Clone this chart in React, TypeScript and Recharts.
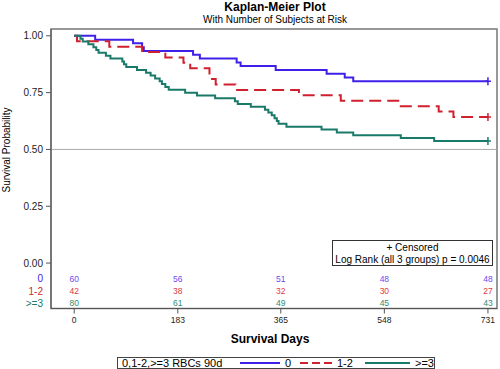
import { ComposedChart, Line, Scatter, XAxis, YAxis, ReferenceLine, ReferenceArea } from 'recharts';

const GROUPS = ['0', '1-2', '>=3'];
const COLORS = ['#3F20E8', '#D01F2F', '#1A7A6A'];
const RISK_COLORS = ['#6A4CF2', '#DD3A45', '#2E8C7B'];

// step times (days) and KM estimate right after each step
const DAYS_0 = [37, 104, 120, 123, 210, 222, 287, 294, 356, 446, 478, 493];
const SURV_0 = [0.983, 0.967, 0.95, 0.933, 0.917, 0.9, 0.883, 0.867, 0.85, 0.833, 0.817, 0.8];
const DAYS_12 = [5, 62, 120, 161, 193, 205, 239, 250, 285, 397, 471, 577, 644, 670];
const SURV_12 = [0.976, 0.952, 0.929, 0.905, 0.881, 0.857, 0.81, 0.786, 0.762, 0.738, 0.714, 0.69, 0.667, 0.643];
const DAYS_3 = [11, 15, 25, 34, 39, 43, 56, 64, 85, 88, 92, 111, 127, 135, 143, 151, 155, 161, 167, 196, 217, 249,
  284, 289, 312, 337, 343, 349, 354, 358, 361, 375, 437, 464, 493, 577, 636];
const SURV_3 = [0.9875, 0.975, 0.9625, 0.95, 0.9375, 0.925, 0.9125, 0.9, 0.8875, 0.875, 0.8625, 0.85, 0.8375, 0.825,
  0.8125, 0.8, 0.7875, 0.775, 0.7625, 0.75, 0.7375, 0.725, 0.7125, 0.7, 0.6875, 0.675, 0.6625, 0.65, 0.6375, 0.625,
  0.6125, 0.6, 0.5875, 0.575, 0.5625, 0.55, 0.5375];
const LAST_DAY = 731;

const RISK_DAYS = [0, 183, 365, 548, 731];
const AT_RISK_0 = [60, 56, 51, 48, 48];
const AT_RISK_12 = [42, 38, 32, 30, 27];
const AT_RISK_3 = [80, 61, 49, 45, 43];

const Y_TICKS = [0, 0.25, 0.5, 0.75, 1];
const RISK_ROW_Y = [-0.07, -0.123, -0.176];

const FONT = 'Arial, "Liberation Sans", sans-serif';

function steps(days: number[], surv: number[]) {
  const pts = [{ day: 0, surv: 1 }];
  days.forEach((d, i) => pts.push({ day: d, surv: surv[i] }));
  pts.push({ day: LAST_DAY, surv: surv[surv.length - 1] });
  return pts;
}

const curves = [steps(DAYS_0, SURV_0), steps(DAYS_12, SURV_12), steps(DAYS_3, SURV_3)];
const riskRows = [AT_RISK_0, AT_RISK_12, AT_RISK_3].map((counts, g) =>
  RISK_DAYS.map((d, i) => ({ day: d, y: RISK_ROW_Y[g], n: counts[i] })));
const censored = curves.map((c) => [c[c.length - 1]]);

const YTick = (props: any) => {
  const { x, y, payload } = props;
  const v = payload.value;
  const g = RISK_ROW_Y.indexOf(v);
  if (g >= 0) {
    return (
      <text x={x} y={y} textAnchor="end" dominantBaseline="central" fontSize={10} fontFamily={FONT} fill={COLORS[g]}>
        {GROUPS[g]}
      </text>
    );
  }
  return (
    <g>
      <line x1={x + 3} x2={x + 8} y1={y} y2={y} stroke="#555" />
      <text x={x} y={y} textAnchor="end" dominantBaseline="central" fontSize={10} fontFamily={FONT} fill="#222">
        {v.toFixed(2)}
      </text>
    </g>
  );
};

const plus = (color: string) => (p: any) => (
  <g>
    <line x1={p.cx - 3} x2={p.cx + 3} y1={p.cy} y2={p.cy} stroke={color} strokeWidth={1.5} />
    <line x1={p.cx} x2={p.cx} y1={p.cy - 4} y2={p.cy + 4} stroke={color} strokeWidth={1.5} />
  </g>
);

const riskText = (color: string) => (p: any) => (
  <text x={p.cx} y={p.cy} textAnchor="middle" dominantBaseline="central" fontSize={8.5} fontFamily={FONT} fill={color}>
    {p.payload.n}
  </text>
);

export default function App() {
  return (
    <div style={{ position: 'absolute', left: 0, top: 0, width: 500, height: 369, background: '#fff', fontFamily: FONT }}>
      <ComposedChart width={500} height={369} margin={{ top: 29, right: 3, bottom: 0, left: 0 }}>
        <XAxis dataKey="day" type="number" domain={[-41, 747]} allowDataOverflow ticks={RISK_DAYS} height={60.5}
          tickSize={5} tickMargin={3} stroke="#555" tick={{ fill: '#222', fontSize: 8.5, fontFamily: FONT }} />
        <YAxis type="number" domain={[-0.2, 1.03]} allowDataOverflow ticks={[...RISK_ROW_Y, ...Y_TICKS]} width={51}
          tickSize={5} tickMargin={3} tickLine={false} stroke="#555" tick={<YTick />} interval={0} />
        <ReferenceArea x1={-41} x2={747} y1={-0.2} y2={1.03} fill="none" stroke="#777" strokeWidth={1.5} />
        <ReferenceLine y={0.5} stroke="#aaa" strokeWidth={1} />
        {curves.map((c, g) => (
          <Line key={g} data={c} dataKey="surv" type="stepAfter" stroke={COLORS[g]} strokeWidth={2}
            strokeDasharray={g === 1 ? '12 6' : undefined} dot={false} activeDot={false} isAnimationActive={false} />
        ))}
        {censored.map((c, g) => (
          <Scatter key={'c' + g} data={c} dataKey="surv" shape={plus(COLORS[g])} isAnimationActive={false} />
        ))}
        {riskRows.map((r, g) => (
          <Scatter key={'r' + g} data={r} dataKey="y" shape={riskText(RISK_COLORS[g])} isAnimationActive={false} />
        ))}
      </ComposedChart>
      <svg width={500} height={369} style={{ position: 'absolute', left: 0, top: 0, pointerEvents: 'none' }} fontFamily={FONT}>
        <text x={275} y={7} textAnchor="middle" dominantBaseline="central" fontSize={12} fontWeight="bold" fill="#000">Kaplan-Meier Plot</text>
        <text x={275} y={19} textAnchor="middle" dominantBaseline="central" fontSize={10} fill="#000">With Number of Subjects at Risk</text>
        <text transform="translate(6,150) rotate(-90)" textAnchor="middle" dominantBaseline="central" fontSize={10} fill="#000">Survival Probability</text>
        <text x={270} y={339} textAnchor="middle" dominantBaseline="central" fontSize={12} fontWeight="bold" fill="#000">Survival Days</text>
        <rect x={332.5} y={240.5} width={160} height={25} fill="#fff" stroke="#333" />
        <text x={412.5} y={247} textAnchor="middle" dominantBaseline="central" fontSize={10} fill="#000">+ Censored</text>
        <text x={412.5} y={259} textAnchor="middle" dominantBaseline="central" fontSize={10} fill="#000">Log Rank (all 3 groups) p = 0.0046</text>
        <rect x={117.5} y={357.5} width={317} height={11} fill="#fff" stroke="#444" />
        <text x={122} y={363} dominantBaseline="central" fontSize={11} fill="#000">0,1-2,&gt;=3 RBCs 90d</text>
        <line x1={240} x2={280} y1={363} y2={363} stroke={COLORS[0]} strokeWidth={2} />
        <text x={285} y={363} dominantBaseline="central" fontSize={11} fill="#000">{GROUPS[0]}</text>
        <line x1={300} x2={333} y1={363} y2={363} stroke={COLORS[1]} strokeWidth={2} strokeDasharray="8 4" />
        <text x={337} y={363} dominantBaseline="central" fontSize={11} fill="#000">{GROUPS[1]}</text>
        <line x1={365} x2={410} y1={363} y2={363} stroke={COLORS[2]} strokeWidth={2} />
        <text x={415} y={363} dominantBaseline="central" fontSize={11} fill="#000">{GROUPS[2]}</text>
      </svg>
    </div>
  );
}
